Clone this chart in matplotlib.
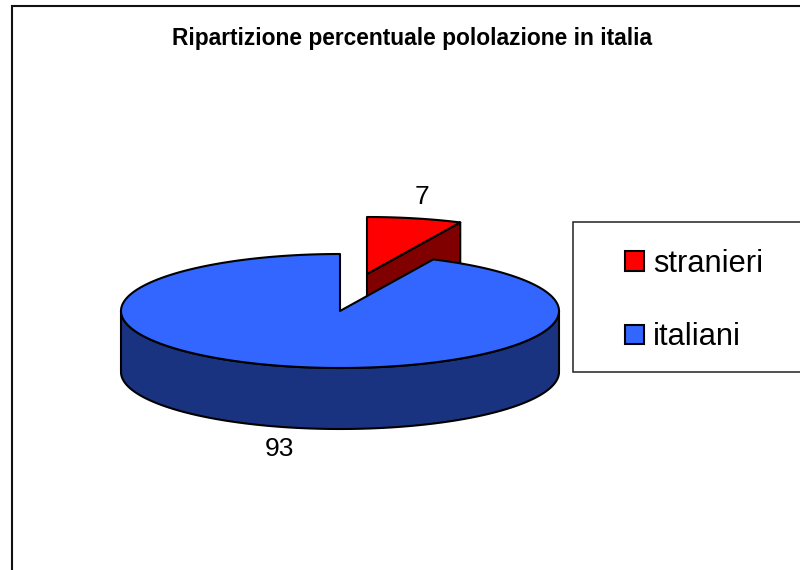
import numpy as np
import matplotlib
matplotlib.use("Agg")
import matplotlib.pyplot as plt
from matplotlib.patches import Patch, Rectangle

plt.rcParams['font.family'] = ['Liberation Sans', 'DejaVu Sans']

title = "Ripartizione percentuale pololazione in italia"
categories = ["stranieri", "italiani"]
values = [7, 93]
top_colors = ["#FF0000", "#3366FF"]
side_colors = ["#800000", "#1A3380"]

CX, CY, RX, RY, DEPTH = 340, 311, 219, 57, 61
EXPLODE = (27, -37)
INK = "#000000"
LW = 1.5


def point(theta, cx=CX, cy=CY):
    return cx + RX * np.sin(theta), cy - RY * np.cos(theta)


def arc(t0, t1, cx=CX, cy=CY):
    th = np.linspace(t0, t1, 400)
    return point(th, cx, cy)


fig = plt.figure(figsize=(8, 5.7), dpi=100)
ax = fig.add_axes([0, 0, 1, 1])
ax.set_xlim(0, 800)
ax.set_ylim(570, 0)
ax.axis("off")

ax.add_patch(Rectangle((11.5, 6), 800, 600, fc="white", ec="#111111", lw=1.5))

split = 2 * np.pi * values[0] / sum(values)

# exploded slice
ex, ey = CX + EXPLODE[0], CY + EXPLODE[1]
ox, oy = point(split, ex, ey)
ax.fill([ex, ox, ox, ex], [ey, oy, oy + DEPTH, ey + DEPTH],
        fc=side_colors[0], ec=INK, lw=LW, zorder=2, joinstyle="round")
ax_, ay_ = arc(0, split, ex, ey)
ax.fill(np.r_[ex, ax_], np.r_[ey, ay_], fc=top_colors[0], ec=INK, lw=LW,
        zorder=3, joinstyle="round")

# main slice: wall, then top
wx, wy = arc(np.pi / 2, 3 * np.pi / 2)
ax.fill(np.r_[wx, wx[::-1]], np.r_[wy, wy[::-1] + DEPTH],
        fc=side_colors[1], ec=INK, lw=LW, zorder=4, joinstyle="round")
bx, by = arc(split, 2 * np.pi)
ax.fill(np.r_[CX, bx], np.r_[CY, by], fc=top_colors[1], ec=INK, lw=LW,
        zorder=5, joinstyle="round")

ax.text(412.5, 38, title, ha="center", va="center", fontsize=16.4,
        fontweight="bold", color="black")
ax.text(422, 196.5, str(values[0]), ha="center", va="center", fontsize=19, color="black")
ax.text(279.5, 448.5, str(values[1]), ha="center", va="center", fontsize=19, color="black")

ax.add_patch(Rectangle((573, 222), 300, 150, fc="white", ec="#222222", lw=1.1, zorder=6))
handles = [Patch(fc=c, ec=INK, lw=1.5) for c in top_colors]
leg = ax.legend(handles, categories, loc="center left",
                bbox_to_anchor=(625, 300.5), bbox_transform=ax.transData,
                frameon=False, fontsize=22.2, labelcolor="black",
                handlelength=0.6, handleheight=0.6, handletextpad=0.3,
                labelspacing=1.42, borderpad=0, borderaxespad=0)
leg.set_zorder(7)

fig.savefig("out.png", dpi=100)
